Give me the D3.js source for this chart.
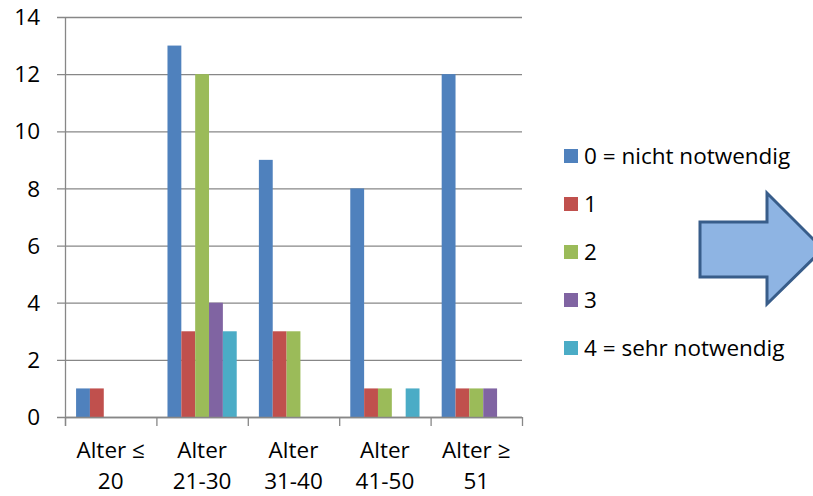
<!DOCTYPE html>
<html>
<head>
<meta charset="utf-8">
<script src="https://cdn.jsdelivr.net/npm/d3@7/dist/d3.min.js"></script>
<style>
  html, body { margin: 0; padding: 0; background: #fff; }
  svg { display: block; font-family: "Open Sans", Lato, sans-serif; }
</style>
</head>
<body>
<svg id="chart" width="813" height="496"></svg>
<script>
// Age groups (two-line labels)
const categories = ["Alter ≤ 20", "Alter 21-30", "Alter 31-40", "Alter 41-50", "Alter ≥ 51"];
const categoryLines = [["Alter ≤", "20"], ["Alter", "21-30"], ["Alter", "31-40"], ["Alter", "41-50"], ["Alter ≥", "51"]];

// Rating series, one value per age group
const seriesNames = ["0 = nicht notwendig", "1", "2", "3", "4 = sehr notwendig"];
const s0 = [1, 13, 9, 8, 12];
const s1 = [1, 3, 3, 1, 1];
const s2 = [0, 12, 3, 1, 1];
const s3 = [0, 4, 0, 0, 1];
const s4 = [0, 3, 0, 1, 0];
const seriesColors = ["#4F81BD", "#C0504D", "#9BBB59", "#8064A2", "#4BACC6"];

const yTicks = [0, 2, 4, 6, 8, 10, 12, 14];

const seriesValues = [s0, s1, s2, s3, s4];

const svg = d3.select("#chart");
const plot = { left: 65, right: 522, top: 17, bottom: 417 };
const fontSize = 22.5;

const y = d3.scaleLinear().domain([0, 14]).range([plot.bottom, plot.top]);
const x0 = d3.scaleBand().domain(categories).range([plot.left, plot.right]).paddingInner(0).paddingOuter(0);
const x1 = d3.scaleBand().domain(seriesNames).range([0, x0.bandwidth()]).paddingInner(0).paddingOuter(0.8);

const gridColor = "#878787";

// Horizontal gridlines with short ticks left of the axis
svg.append("g").selectAll("line").data(yTicks).join("line")
  .attr("x1", plot.left - 8).attr("x2", plot.right)
  .attr("y1", d => y(d) + 0.5).attr("y2", d => y(d) + 0.5)
  .attr("stroke", gridColor).attr("stroke-width", 1.3);

// Y tick labels
svg.append("g").selectAll("text").data(yTicks).join("text")
  .attr("x", 40).attr("y", d => y(d))
  .attr("dy", "0.36em")
  .attr("text-anchor", "end")
  .attr("font-size", fontSize).attr("fill", "#000")
  .text(d => d);

// Bars
const groups = svg.append("g").selectAll("g").data(categories).join("g")
  .attr("transform", c => `translate(${x0(c)},0)`);
groups.selectAll("rect")
  .data((c, i) => seriesNames.map((s, j) => ({ s, v: seriesValues[j][i], color: seriesColors[j] })))
  .join("rect")
  .attr("x", d => x1(d.s))
  .attr("width", x1.bandwidth())
  .attr("y", d => y(d.v))
  .attr("height", d => y(0) - y(d.v))
  .attr("fill", d => d.color);

// Axes lines
svg.append("line")
  .attr("x1", plot.left + 0.5).attr("x2", plot.left + 0.5)
  .attr("y1", plot.top).attr("y2", plot.bottom + 9)
  .attr("stroke", gridColor).attr("stroke-width", 1.3);
svg.append("line")
  .attr("x1", plot.left).attr("x2", plot.right)
  .attr("y1", plot.bottom + 0.5).attr("y2", plot.bottom + 0.5)
  .attr("stroke", gridColor).attr("stroke-width", 1.3);

// Category boundary ticks below the x axis
const boundaries = categories.map(c => x0(c)).concat([plot.right]);
svg.append("g").selectAll("line").data(boundaries).join("line")
  .attr("x1", d => d + 0.5).attr("x2", d => d + 0.5)
  .attr("y1", plot.bottom).attr("y2", plot.bottom + 9)
  .attr("stroke", gridColor).attr("stroke-width", 1.3);

// Category labels (two lines)
const xl = svg.append("g").selectAll("text").data(categories).join("text")
  .attr("text-anchor", "middle")
  .attr("font-size", fontSize).attr("fill", "#000");
xl.selectAll("tspan").data((c, i) => categoryLines[i]).join("tspan")
  .attr("x", function () { return x0(d3.select(this.parentNode).datum()) + x0.bandwidth() / 2; })
  .attr("y", (d, k) => 458 + k * 31)
  .text(d => d);

// Legend
const legend = svg.append("g").selectAll("g").data(seriesNames).join("g")
  .attr("transform", (d, i) => `translate(564, ${156 + i * 48})`);
legend.append("rect")
  .attr("x", 0).attr("y", -7).attr("width", 14).attr("height", 14)
  .attr("fill", (d, i) => seriesColors[i]);
legend.append("text")
  .attr("x", 20).attr("y", 0).attr("dy", "0.36em")
  .attr("font-size", fontSize).attr("fill", "#000")
  .text(d => d);

// Block arrow pointing right
const arrow = [[700, 222], [767, 222], [767, 193], [823, 249], [767, 304], [767, 277], [700, 277]];
svg.append("path")
  .attr("d", d3.line()(arrow) + "Z")
  .attr("fill", "#8EB4E3")
  .attr("stroke", "#385D8A")
  .attr("stroke-width", 3)
  .attr("stroke-linejoin", "miter");
</script>
</body>
</html>
